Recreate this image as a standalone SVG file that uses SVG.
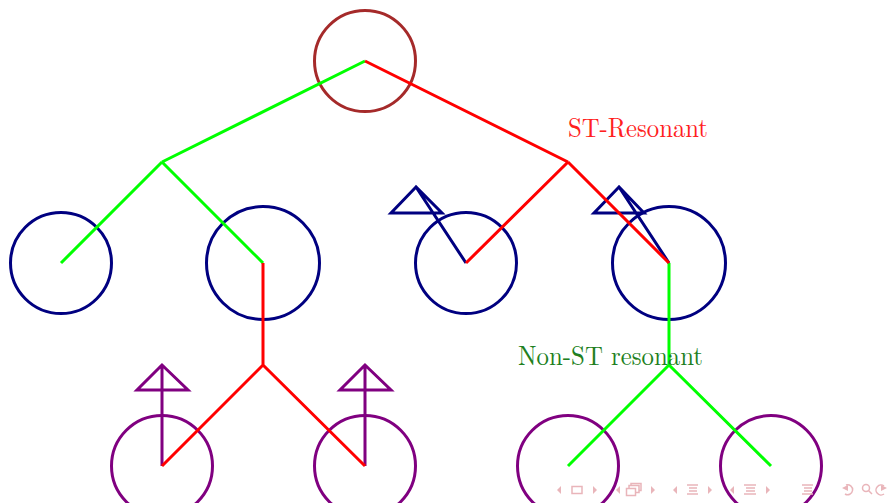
<svg xmlns="http://www.w3.org/2000/svg" width="889" height="503" viewBox="0 0 889 503">
<style>
.c{fill:none;stroke-width:3}
.brown{stroke:#A52A2A}
.navy{stroke:#000080}
.purple{stroke:#800080}
.arr{fill:none;stroke-width:3;stroke-linejoin:miter}
.g{stroke:#00FF00;stroke-width:3;fill:none}
.r{stroke:#FF0000;stroke-width:3;fill:none}
.lbl{font-family:"Latin Modern Roman","Liberation Serif",serif;font-size:27px}
.nav{fill:#E9B5BA;stroke:none}
.navs{fill:none;stroke:#E9B5BA;stroke-width:1.5}
</style>
<rect width="889" height="503" fill="#FFFFFF"/>
<g id="root"><circle class="c brown" cx="365" cy="61" r="50.5"/></g>
<g id="n1"><circle class="c navy" cx="61" cy="263" r="50.5"/></g>
<g id="n2"><circle class="c navy" cx="263" cy="263" r="56.5"/></g>
<g id="n3"><circle class="c navy" cx="466" cy="263" r="50.5"/>
<path class="arr navy" d="M466,263 L416,187 M416,187 L391,213 L442,213 Z"/></g>
<g id="n4"><circle class="c navy" cx="669" cy="263" r="56.5"/>
<path class="arr navy" d="M669,263 L619,187 M619,187 L594,213 L644,213 Z"/></g>
<g id="p1"><circle class="c purple" cx="162" cy="466" r="50.5"/>
<path class="arr purple" d="M162,466 L162,365 M162,365 L137,390 L188,390 Z"/></g>
<g id="p2"><circle class="c purple" cx="365" cy="466" r="50.5"/>
<path class="arr purple" d="M365,466 L365,365 M365,365 L340,390 L391,390 Z"/></g>
<g id="p3"><circle class="c purple" cx="568" cy="466" r="50.5"/></g>
<g id="p4"><circle class="c purple" cx="771" cy="466" r="50.5"/></g>
<g id="connectors">
<path class="g" d="M365,61 L162,162 M162,162 L61,263 M162,162 L263,263 M669,263 L669,365 M669,365 L568,466 M669,365 L771,466"/>
<path class="r" d="M365,61 L568,162 M568,162 L466,263 M568,162 L669,263 M263,263 L263,365 M263,365 L162,466 M263,365 L365,466"/>
</g>
<g id="labels">
<text class="lbl" x="568" y="137" fill="#FF2020" textLength="140" lengthAdjust="spacingAndGlyphs">ST-Resonant</text>
<text class="lbl" x="518" y="365" fill="#217F21" textLength="185" lengthAdjust="spacingAndGlyphs">Non-ST resonant</text>
</g>
<g id="navigation">
<path class="nav" d="M561,486 L557,490 L561,494 Z"/>
<rect class="navs" x="572" y="486.5" width="10" height="7"/>
<path class="nav" d="M593,486 L597,490 L593,494 Z"/>
<path class="nav" d="M620,486 L616,490 L620,494 Z"/>
<rect class="navs" x="626.5" y="488.5" width="9" height="7"/>
<path class="navs" d="M629,488.5 V485.5 H639 V492.5 H635.5 M631,485.5 V483.5 H641 V490.5 H639"/>
<path class="nav" d="M651,486 L655,490 L651,494 Z"/>
<path class="nav" d="M677,486 L673,490 L677,494 Z"/>
<path class="navs" d="M687,485 H698 M689,488 H697 M689,491 H697 M687,494 H698"/>
<path class="nav" d="M708,486 L712,490 L708,494 Z"/>
<path class="nav" d="M734,486 L730,490 L734,494 Z"/>
<path class="navs" d="M744,485 H756 M746,488 H755 M746,491 H755 M744,494 H756"/>
<path class="nav" d="M766,486 L770,490 L766,494 Z"/>
<path class="navs" d="M802,485 H813 M804,488 H812 M804,491 H812 M802,494 H813"/>
<path class="navs" d="M846,485 A5,5 0 1 1 845,494"/>
<path class="nav" d="M842,488 L848,485 L848,491 Z"/>
<circle class="navs" cx="866" cy="488" r="3.5"/>
<path class="navs" d="M868.5,490.5 L872,494"/>
<path class="navs" d="M884,486 A5,5 0 1 0 884,494"/>
<path class="nav" d="M887,488 L881,485 L881,491 Z"/>
</g>
</svg>
